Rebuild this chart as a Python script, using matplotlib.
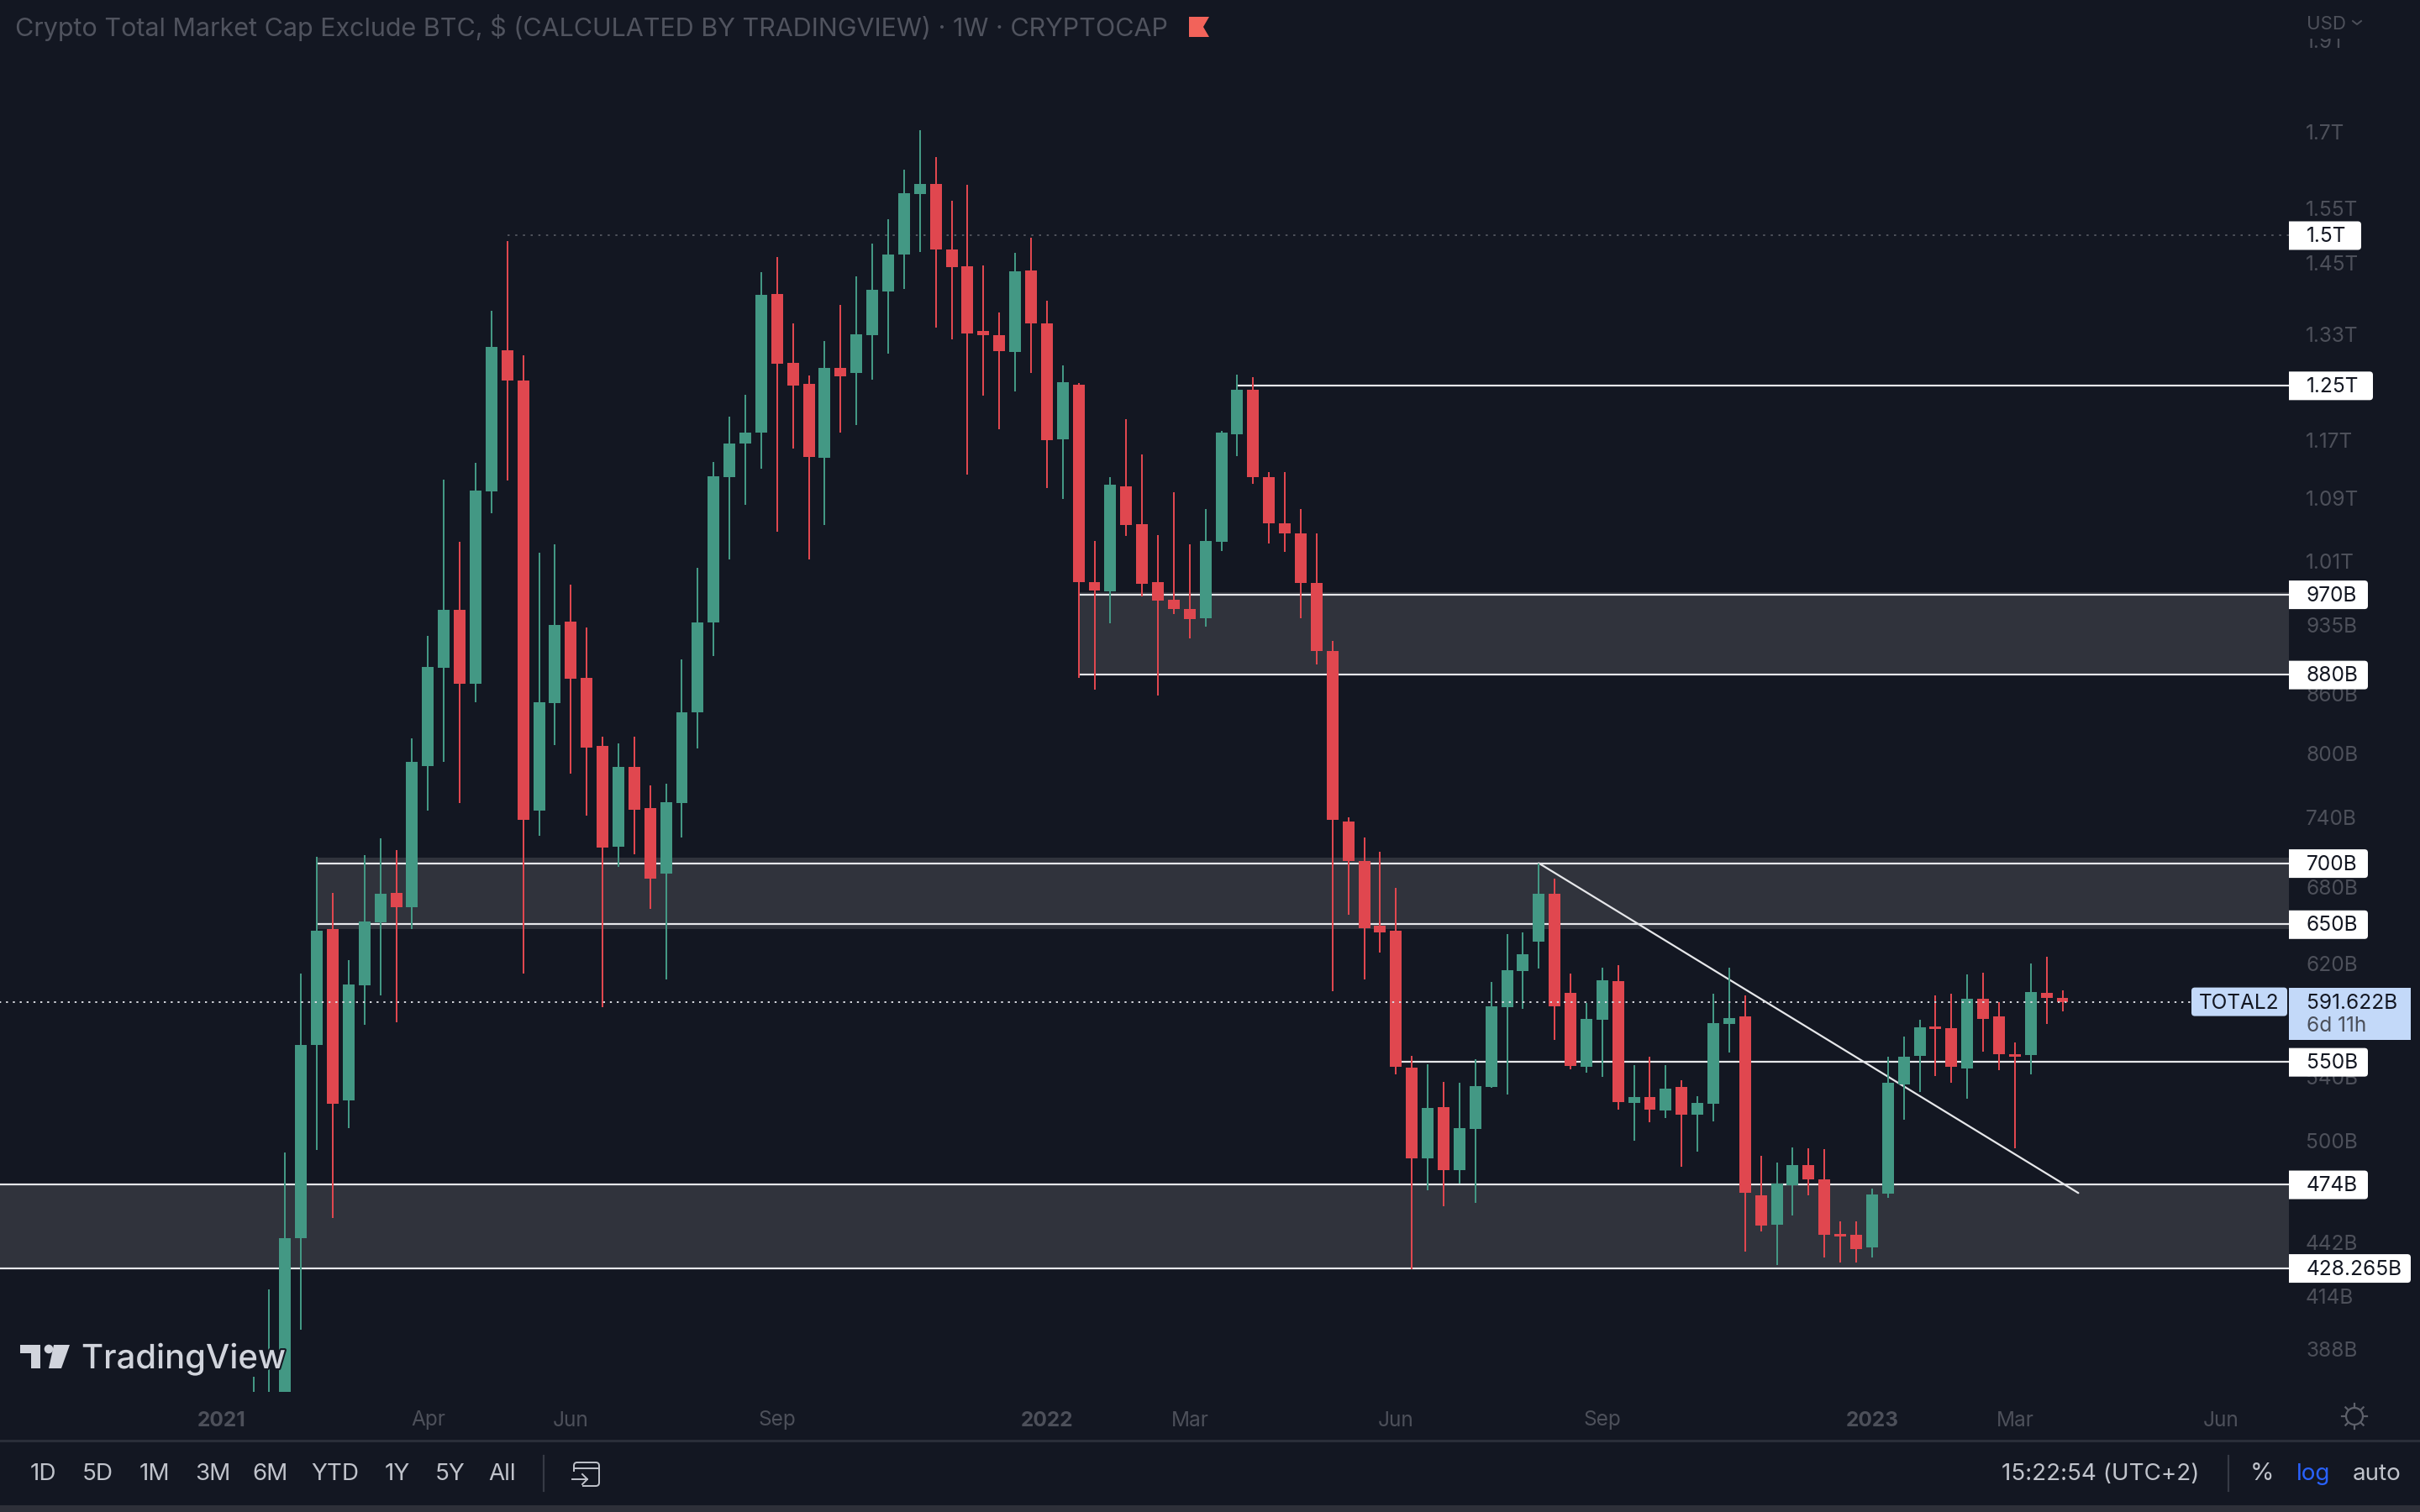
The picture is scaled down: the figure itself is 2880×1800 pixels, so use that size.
import numpy as np
import matplotlib
matplotlib.use("Agg")
import matplotlib.pyplot as plt
import matplotlib.patheffects as pe
from matplotlib.patches import FancyBboxPatch, Polygon, Rectangle, Circle

plt.rcParams['font.family'] = ['Inter', 'DejaVu Sans']

# weekly candles, in billions of USD
opens = [345, 352, 366, 444.3, 561.4, 645.9, 524.7, 603.3, 651.7, 675.4,
         663.9, 787.2, 887.3, 952.4, 870.7, 1098.7, 1303.8, 1257.8, 746.2, 849.7,
         938.9, 876.8, 807, 713.9, 786.5, 748.5, 691.1, 753.3, 840.9, 937.9,
         1118.1, 1164.4, 1179.9, 1396.2, 1284.1, 1252.5, 1145.4, 1276.2, 1269.6, 1328.8,
         1400.6, 1464.7, 1576.4, 1595.7, 1474.9, 1444.3, 1335.3, 1328.8, 1301.2, 1437,
         1347.2, 1170.3, 1251.2, 984.4, 973.7, 1106.2, 1056.8, 984.4, 964.1, 953.4,
         942.7, 1034.3, 1177.5, 1243.3, 1118.1, 1057.9, 1044, 983.4, 906, 736.6,
         701.8, 649.1, 644.6, 546.3, 489, 520.5, 482.3, 506.8, 533.6, 587.6,
         613.9, 636.2, 674.7, 598.2, 546.8, 578.9, 606.5, 523.1, 527.3, 518.4,
         533.6, 515.7, 522.6, 575.9, 581.1, 467.7, 451.5, 473.4, 485.2, 476.7,
         446.3, 445.8, 439.2, 468.6, 535.2, 553.8, 574.2, 573, 545.7, 593.6,
         581.2, 555, 554.4, 598.2, 594.1]
highs = [375.5, 417.3, 492.6, 612.3, 705.4, 675.4, 622.6, 706.8, 721.8, 711.1,
         814.1, 922.4, 1115, 1034.3, 1138.3, 1369, 1489.5, 1295.9, 1020.3, 1031.1,
         981.5, 932.1, 816.4, 809.4, 816.4, 769.1, 770.7, 896.1, 1002.1, 1139.5,
         1203.6, 1236, 1434.1, 1460.3, 1348, 1265.7, 1319.6, 1378.7, 1426.8, 1485,
         1529.6, 1624.7, 1704.7, 1648.9, 1563.5, 1594.1, 1445.8, 1365.6, 1467.6, 1496,
         1386, 1280.1, 1253.8, 1035.4, 1118.1, 1200, 1149, 1042.9, 1097.6, 1031.1,
         1076.1, 1183.4, 1267, 1263, 1125.2, 1125.2, 1076.1, 1045, 916.6, 739.8,
         722.5, 709.6, 679.6, 553.8, 548.6, 536.8, 536.3, 552, 606, 642.2,
         643.4, 700, 686.8, 612.3, 590.8, 616.8, 618.8, 548, 553.2, 548,
         537.8, 527.8, 597.5, 616.8, 596.3, 490.7, 486.8, 495.6, 495.1, 494.7,
         453.4, 453, 471.5, 553.2, 567.2, 578.9, 596.3, 597.5, 611.7, 613,
         591.4, 563.3, 619.5, 624.8, 599.8]
lows = [335, 340, 355, 397.2, 494.2, 455.3, 507.3, 575.4, 596.3, 577.1,
        646.2, 746.2, 791.2, 753.3, 850.6, 1070.8, 1113.3, 612.3, 723.9, 807.8,
        780.1, 741.4, 587.6, 697.1, 707.5, 662, 607.8, 722.5, 804.6, 900.4,
        1011.8, 1081.5, 1130, 1046.2, 1157.3, 1011.8, 1054.7, 1181, 1191.7, 1259.1,
        1298.5, 1405, 1469.1, 1340.6, 1322.2, 1121.6, 1234.1, 1185.8, 1240.7, 1269.6,
        1103.8, 1089, 876.8, 863.7, 936.9, 1041.8, 967.9, 857.6, 947.6, 919.5,
        933, 1022.5, 1147.8, 1109.8, 1032.2, 1021.4, 942.7, 890.8, 599, 657.5,
        607.8, 627.8, 542, 427.6, 470.5, 461.5, 474.3, 463.4, 533.1, 528.4,
        586.4, 616.2, 564.9, 545.1, 542.6, 540.3, 518.9, 500, 511, 513.6,
        484.3, 493, 511.5, 556.2, 437, 447.7, 430, 456.3, 467.7, 434,
        431, 431, 433.6, 466.2, 512.6, 530.5, 540.9, 536.3, 525.7, 556.8,
        544.5, 495.1, 542, 575.9, 584.7]
closes = [365, 366, 444.3, 561.4, 645.2, 522.6, 603.9, 652.3, 674.7, 663.9,
          791.2, 888.2, 952.4, 870.7, 1099.8, 1310.4, 1257.8, 737.5, 850.6, 935,
          875.9, 805.4, 713.2, 786.5, 747, 686.8, 754, 840.9, 937.9, 1119.3,
          1164.4, 1179.9, 1394.8, 1282.8, 1249.9, 1146.6, 1276.2, 1264.4, 1330.1, 1403.5,
          1464.7, 1578, 1595.7, 1474.9, 1442.8, 1331.4, 1328.8, 1302.5, 1435.6, 1347.2,
          1169.2, 1255.2, 984.4, 974.7, 1108.6, 1054.7, 982.5, 963.1, 953.4, 941.8,
          1035.4, 1179.9, 1243.3, 1118.1, 1057.9, 1044, 983.4, 906, 737.5, 701.8,
          647.2, 643.3, 546.8, 489, 520, 482.3, 507.3, 534.1, 588.2, 614.5,
          626.5, 674.7, 588.2, 547.4, 579.4, 607.2, 523.6, 526.8, 518.9, 532.5,
          515.7, 523.1, 576.5, 580, 469.1, 451, 474.3, 485.2, 476.7, 445.8,
          444.9, 438.3, 468.1, 536.3, 553.2, 573.6, 572.5, 546.8, 593.6, 579.4,
          555, 553.2, 598.8, 594.1, 591.622]

# price scale labels (billions)
tick_values = [1900, 1700, 1550, 1450, 1330, 1170, 1090, 1010, 935, 860, 800, 740, 680, 620, 540, 500, 442, 414, 388]
tick_labels = ["1.9T", "1.7T", "1.55T", "1.45T", "1.33T", "1.17T", "1.09T", "1.01T", "935B", "860B",
               "800B", "740B", "680B", "620B", "540B", "500B", "442B", "414B", "388B"]

# time scale labels, as week numbers
week_ticks = [-2, 11, 20, 33, 50, 59, 72, 85, 102, 111, 124]
week_labels = ["2021", "Apr", "Jun", "Sep", "2022", "Mar", "Jun", "Sep", "2023", "Mar", "Jun"]

# drawings: zones
zone_starts = [52, 4, -16]
zone_tops = [973, 704.7, 474]
zone_bottoms = [880, 646.2, 428.265]

# drawings: levels
level_values = [970, 880, 700, 650, 474, 428.265, 1250, 550]
level_starts = [52, 52, 4, 4, -16, -16, 62, 72]
pill_values = [1500, 1250, 970, 880, 700, 650, 550, 474, 428.265]
pill_texts = ["1.5T", "1.25T", "970B", "880B", "700B", "650B", "550B", "474B", "428.265B"]
pill_ends = [2810, 2824, 2818, 2818, 2818, 2818, 2818, 2818, 2869]

ath_value = 1500
ath_start = 16
last_price = 591.622

trend_weeks = [81, 115]
trend_prices = [700, 469.1]

BG = "#131722"
GREEN = "#439884"
RED = "#e0474f"
ZONE = "#30333c"
LINE = "#e6e7ea"
GREY = "#4d505a"

fig = plt.figure(figsize=(14.4, 9), dpi=200, facecolor=BG)
W, H = 2880, 1800
ax = fig.add_axes([0, (H - 1657) / H, 2724 / W, 1657 / H], facecolor=BG)
ax.set_yscale("log")
ax.set_xlim(-15.97, 128.27)
ax.set_ylim(368.5, 1995.5)

weeks = np.arange(len(opens))
o = np.array(opens)
c = np.array(closes)
colors = [GREEN if c[i] >= o[i] else RED for i in weeks]

xmax = ax.get_xlim()[1]
for s, t, b in zip(zone_starts, zone_tops, zone_bottoms):
    ax.fill_between([s, xmax], [b, b], [t, t], color=ZONE, lw=0, zorder=1)
ax.hlines(level_values, level_starts, xmax, colors=LINE, lw=0.8, zorder=2)
ax.hlines(ath_value, ath_start, xmax, colors="#5a5d66", lw=0.6, linestyles=(0, (1.5, 4)), zorder=2)
ax.plot(trend_weeks, trend_prices, color=LINE, lw=0.8, zorder=2, solid_capstyle="round")

ax.vlines(weeks, lows, highs, colors=colors, lw=0.72, zorder=3)
ax.bar(weeks, np.abs(c - o), bottom=np.minimum(o, c), width=0.74, color=colors, lw=0, zorder=3)

ax.plot([-16, 122.5], [last_price, last_price], color="#d8dae0", lw=0.7, ls=(0, (1.2, 3)), zorder=4)

ax.yaxis.tick_right()
ax.set_yticks(tick_values)
ax.set_yticklabels(tick_labels)
ax.yaxis.set_minor_locator(matplotlib.ticker.NullLocator())
ax.tick_params(axis="y", length=0, pad=7.2, labelsize=8.8, labelcolor=GREY)
ax.set_xticks(week_ticks)
ax.set_xticklabels(week_labels)
ax.tick_params(axis="x", length=0, pad=8.1, labelsize=8.8, labelcolor=GREY)
for label in ax.get_xticklabels():
    if label.get_text().startswith("20"):
        label.set_fontweight("bold")
for sp in ax.spines.values():
    sp.set_visible(False)

# chrome on top, in pixel coordinates
ui = fig.add_axes([0, 0, 1, 1], zorder=5)
ui.set_xlim(0, W)
ui.set_ylim(H, 0)
ui.axis("off")
ui.patch.set_alpha(0)


def ypix(value):
    return H - ax.transData.transform((0, value))[1]


def rtext(x, y, s, **kw):
    kw.setdefault("va", "center")
    kw.setdefault("ha", "left")
    return ui.text(x, y, s, **kw)


def right_pill(x0, x1, yc, color):
    # square on the axis side, rounded on the outer side
    top = yc - 16.5
    p = FancyBboxPatch((x0 - 10, top), x1 - x0 + 10, 34, boxstyle="round,pad=0,rounding_size=4", color=color, lw=0)
    ui.add_patch(p)
    p.set_clip_path(Rectangle((x0, top - 2), x1 - x0 + 2, 38, transform=ui.transData))


# header
ui.add_patch(Rectangle((2724, 0), 156, 46, color=BG, lw=0))
rtext(18, 33, "Crypto Total Market Cap Exclude BTC, $ (CALCULATED BY TRADINGVIEW) · 1W · CRYPTOCAP",
      fontsize=10.97, color="#50535e")
ui.add_patch(Polygon([(1415, 20), (1439, 20), (1432, 32), (1439, 44), (1415, 44)], color="#f2635a", lw=0))
rtext(2745, 29, "USD", fontsize=8, color=GREY)
ui.plot([2800, 2805, 2810], [25, 29, 25], color=GREY, lw=0.7)

# price pills
for v, s, e in zip(pill_values, pill_texts, pill_ends):
    y = ypix(v)
    right_pill(2724, e, y, "white")
    rtext(2745, y + 1.5, s, fontsize=8.8, color="#131722")

# last price
y = ypix(last_price)
ui.add_patch(FancyBboxPatch((2608, y - 17), 114, 34, boxstyle="round,pad=0,rounding_size=4",
                            color="#c3d9f9", lw=0))
rtext(2665, y + 1.5, "TOTAL2", fontsize=8.8, color="#131722", ha="center")
ui.add_patch(Rectangle((2724, y - 17), 145, 62, color="#c3d9f9", lw=0))
rtext(2745, y + 1.5, "591.622B", fontsize=8.8, color="#131722")
rtext(2745, y + 29, "6d 11h", fontsize=8.8, color="#4a4f5a")

# logo
logo = "#d1d4dc"
ui.add_patch(Polygon([(24, 1601), (48, 1601), (48, 1629), (37, 1629), (37, 1611), (24, 1611)], color=logo, lw=0))
ui.add_patch(Circle((58, 1606), 5.3, color=logo, lw=0))
ui.add_patch(Polygon([(64, 1601), (83, 1601), (73, 1629), (58, 1629)], color=logo, lw=0))
rtext(97, 1629, "TradingView", fontsize=14.4, color=logo, fontweight="medium", va="baseline",
      path_effects=[pe.withStroke(linewidth=1.5, foreground=BG)])

# bottom bar
ui.add_patch(Rectangle((0, 1714), W, 2.5, color="#2a2e39", lw=0))
ui.add_patch(Rectangle((0, 1792), W, 8, color="#2e3039", lw=0))
for x, s in zip([51, 116, 184, 253, 322, 399, 473, 536, 598],
                ["1D", "5D", "1M", "3M", "6M", "YTD", "1Y", "5Y", "All"]):
    rtext(x, 1755, s, fontsize=10, color="#c0c3cb", ha="center")
ui.plot([647, 647], [1733, 1775], color="#363a45", lw=0.8)
ui.plot([2652, 2652], [1733, 1775], color="#363a45", lw=0.8)
# calendar icon
ui.add_patch(FancyBboxPatch((683, 1741), 30, 28, boxstyle="round,pad=0,rounding_size=4",
                            fill=False, ec="#c0c3cb", lw=0.7))
ui.add_patch(Rectangle((680, 1752), 13, 20, color=BG, lw=0))
ui.plot([683, 713], [1748, 1748], color="#c0c3cb", lw=0.7)
ui.plot([681, 699], [1761, 1761], color="#c0c3cb", lw=0.7)
ui.plot([693, 699, 693], [1755, 1761, 1767], color="#c0c3cb", lw=0.7)

rtext(2382, 1755, "15:22:54 (UTC+2)", fontsize=10, color="#c0c3cb")
rtext(2692, 1755, "%", fontsize=10.5, color="#c0c3cb", ha="center")
rtext(2753, 1755, "log", fontsize=10, color="#2962ff", ha="center")
rtext(2829, 1755, "auto", fontsize=10, color="#c0c3cb", ha="center")

# settings icon
ui.add_patch(Circle((2802, 1686), 10, fill=False, ec="#5d606a", lw=0.8))
for a in np.arange(8) * np.pi / 4:
    ui.plot([2802 + 12 * np.cos(a), 2802 + 15 * np.cos(a)], [1686 + 12 * np.sin(a), 1686 + 15 * np.sin(a)],
            color="#5d606a", lw=0.8)

fig.savefig("out.png", dpi=200, facecolor=BG)
